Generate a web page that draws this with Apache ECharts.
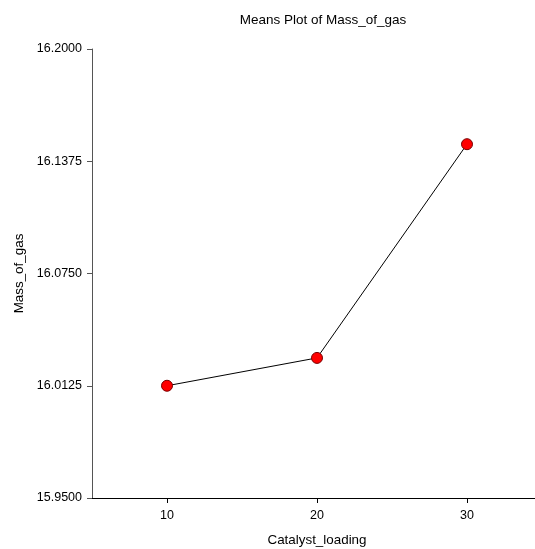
<!DOCTYPE html>
<html><head><meta charset="utf-8">
<script src="https://cdn.jsdelivr.net/npm/echarts@6/dist/echarts.min.js"></script>
<style>html,body{margin:0;padding:0;background:#fff}#c{width:535px;height:549px}</style>
</head><body><div id="c"></div>
<script>
const categories = [10, 20, 30];
const means = [16.0125, 16.028, 16.147];
const yTicks = [15.95, 16.0125, 16.075, 16.1375, 16.2];
const xTicks = [10, 20, 30];
const FONT = '"Liberation Sans", Arial, sans-serif';
const chart = echarts.init(document.getElementById('c'), null, {renderer: 'canvas'});
chart.setOption({
  animation: false,
  backgroundColor: '#fff',
  title: {
    text: 'Means Plot of Mass_of_gas', left: 318, top: 8, textAlign: 'center',
    textStyle: {fontFamily: FONT, fontSize: 13.5, fontWeight: 'normal', color: '#000'}
  },
  grid: {left: 92, width: 450, top: 49, bottom: 51, containLabel: false, outerBoundsMode: 'none'},
  xAxis: {
    type: 'value', min: 5, max: 35,
    name: 'Catalyst_loading', nameLocation: 'middle', nameGap: 36,
    nameTextStyle: {fontFamily: FONT, fontSize: 13.4, color: '#000'},
    axisLine: {show: true, lineStyle: {color: '#000', width: 1}},
    axisTick: {show: true, length: 5, lineStyle: {color: '#000'}, customValues: xTicks},
    axisLabel: {fontFamily: FONT, fontSize: 12.5, color: '#000', margin: 11, customValues: xTicks},
    splitLine: {show: false}
  },
  yAxis: {
    type: 'value', min: 15.95, max: 16.2,
    name: 'Mass_of_gas', nameLocation: 'middle', nameGap: 65, nameRotate: 90,
    nameTextStyle: {fontFamily: FONT, fontSize: 13.4, color: '#000'},
    axisLine: {show: true, lineStyle: {color: '#555', width: 1}},
    axisTick: {show: true, length: 5, lineStyle: {color: '#555'}, customValues: yTicks},
    axisLabel: {fontFamily: FONT, fontSize: 12.5, color: '#000', margin: 10, customValues: yTicks,
      formatter: v => Number(v).toFixed(4)},
    splitLine: {show: false}
  },
  series: [{
    type: 'line',
    data: categories.map((c, i) => [c, means[i]]),
    symbol: 'circle', symbolSize: 11,
    lineStyle: {color: '#000', width: 1},
    itemStyle: {color: '#ff0000', borderColor: '#7a0000', borderWidth: 1},
    z: 3
  }]
});
</script></body></html>
